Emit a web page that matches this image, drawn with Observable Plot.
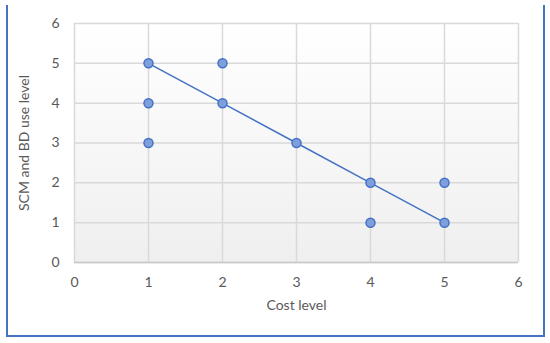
<!DOCTYPE html>
<html>
<head>
<meta charset="utf-8">
<script src="https://cdn.jsdelivr.net/npm/d3@7"></script>
<script src="https://cdn.jsdelivr.net/npm/@observablehq/plot@0.6"></script>
<style>
  html, body { margin: 0; padding: 0; background: #fff; }
  #wrap { position: relative; width: 550px; height: 343px; }
  #frame { position: absolute; left: 6px; top: 5px; width: 535px; height: 330px;
           border-left: 2px solid #4472c4; border-right: 2px solid #4472c4; border-bottom: 2px solid #4472c4; box-sizing: content-box; }
  #chart { position: absolute; left: 0; top: 0; }
</style>
</head>
<body>
<div id="wrap"><div id="chart"></div><div id="frame"></div></div>
<script>
const costLevel = [1, 1, 1, 2, 2, 3, 4, 4, 5, 5];
const useLevel  = [5, 4, 3, 5, 4, 3, 2, 1, 2, 1];
const lineCost = [1, 2, 3, 4, 5];
const lineUse  = [5, 4, 3, 2, 1];
const xTicks = [0, 1, 2, 3, 4, 5, 6];
const yTicks = [0, 1, 2, 3, 4, 5, 6];
const xTitle = "Cost level";
const yTitle = "SCM and BD use level";

const points = costLevel.map((c, i) => ({cost: c, use: useLevel[i]}));
const trend = lineCost.map((c, i) => ({cost: c, use: lineUse[i]}));

const defs = () => {
  const d = d3.create("svg:defs");
  const g = d.append("linearGradient").attr("id", "bg").attr("x1", 0).attr("y1", 0).attr("x2", 0).attr("y2", 1);
  g.append("stop").attr("offset", "0%").attr("stop-color", "#ffffff");
  g.append("stop").attr("offset", "100%").attr("stop-color", "#efefef");
  return d.node();
};

const chart = Plot.plot({
  width: 550,
  height: 343,
  marginLeft: 74,
  marginRight: 32,
  marginTop: 23,
  marginBottom: 81,
  style: {fontFamily: "Lato, 'Open Sans', sans-serif", fontSize: "14px", color: "#595959", background: "transparent"},
  x: {domain: [0, 6], ticks: xTicks, label: null, tickSize: 0, tickPadding: 16},
  y: {domain: [0, 6], ticks: yTicks, label: null, tickSize: 0, tickPadding: 15},
  marks: [
    defs,
    Plot.frame({fill: "url(#bg)", stroke: null}),
    Plot.gridX(xTicks, {stroke: "#d9d9d9", strokeOpacity: 1, strokeWidth: 1.5}),
    Plot.gridY(yTicks, {stroke: "#d9d9d9", strokeOpacity: 1, strokeWidth: 1.5}),
    Plot.ruleY([0], {stroke: "#c8c8c8", strokeWidth: 1.5}),
    Plot.axisX(xTicks, {tickSize: 0, tickPadding: 15, fill: "#595959", fontSize: 14}),
    Plot.axisY(yTicks, {tickSize: 0, tickPadding: 15, fill: "#595959", fontSize: 14}),
    Plot.line(trend, {x: "cost", y: "use", stroke: "#4472c4", strokeWidth: 1.5}),
    Plot.dot(points, {x: "cost", y: "use", r: 4.5, fill: "#7f9fdc", stroke: "#4472c4", strokeWidth: 1.5}),
    Plot.text([xTitle], {frameAnchor: "bottom", lineAnchor: "middle", dy: 43, text: d => d, fill: "#595959", fontSize: 14}),
    Plot.text([yTitle], {frameAnchor: "left", textAnchor: "middle", lineAnchor: "middle", dx: -50, rotate: -90, text: d => d, fill: "#595959", fontSize: 14})
  ]
});
document.getElementById("chart").appendChild(chart);
</script>
</body>
</html>
